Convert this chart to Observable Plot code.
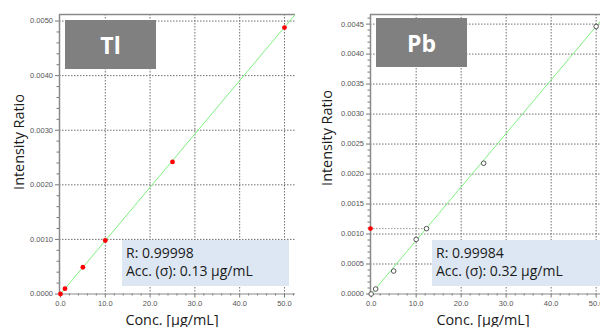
<!DOCTYPE html>
<html>
<head>
<meta charset="utf-8">
<script src="https://cdn.jsdelivr.net/npm/d3@7"></script>
<script src="https://cdn.jsdelivr.net/npm/@observablehq/plot@0.6"></script>
<style>
  html, body { margin: 0; padding: 0; background: #fff; }
  #wrap { position: relative; width: 600px; height: 327px; overflow: hidden; font-family: "Open Sans", sans-serif; }
  .panel { position: absolute; top: 0; }
  .panel svg { max-width: none !important; }
  .elem { position: absolute; background: #808080; color: #fff; font-weight: bold; font-size: 23px;
          display: flex; align-items: center; justify-content: center; font-family: "Open Sans", sans-serif; }
  .stats { position: absolute; background: #dde7f3; }
  .sline { position: absolute; color: #1a1a1a; font-size: 14px; line-height: 18px; height: 18px; white-space: nowrap; }
  .ytitle { position: absolute; font-size: 14.4px; color: #1a1a1a; white-space: nowrap;
            transform: translate(-50%, -50%) rotate(-90deg); }
  .xtitle { position: absolute; font-size: 14.4px; color: #1a1a1a; white-space: nowrap; transform: translate(-50%, -50%); }
</style>
</head>
<body>
<div id="wrap">
  <div id="left" class="panel" style="left:0px;width:300px"></div>
  <div id="right" class="panel" style="left:300px;width:312px"></div>
  <div class="elem" style="left:65px;top:20px;width:91px;height:49px;">Tl</div>
  <div class="elem" style="left:376px;top:18px;width:91px;height:49px;">Pb</div>
  <div class="stats" style="left:122px;top:240px;width:167px;height:46px;"></div>
  <div class="sline" style="left:126px;top:243.5px;">R: 0.99998</div>
  <div class="sline" style="left:126px;top:261.5px;">Acc. (σ): 0.13 µg/mL</div>
  <div class="stats" style="left:432px;top:240px;width:180px;height:46px;"></div>
  <div class="sline" style="left:436px;top:243.5px;">R: 0.99984</div>
  <div class="sline" style="left:436px;top:261.5px;">Acc. (σ): 0.32 µg/mL</div>
  <div class="ytitle" style="left:18px;top:142px;">Intensity Ratio</div>
  <div class="ytitle" style="left:326px;top:138px;">Intensity Ratio</div>
  <div class="xtitle" style="left:172px;top:319px;">Conc. [µg/mL]</div>
  <div class="xtitle" style="left:483px;top:319px;">Conc. [µg/mL]</div>
</div>
<script>
// ---- Data ----
const tlConc  = [0, 1, 5, 10, 25, 50];
const tlRatio = [0.0000, 0.000097, 0.00049, 0.00098, 0.00242, 0.00488];
const tlFitX  = [0, 53];
const tlFitY  = [0, 0.00518];

const pbConc  = [0, 1, 5, 10, 25, 50];
const pbRatio = [0.0000, 0.000083, 0.000383, 0.00091, 0.00218, 0.00446];
const pbFitX  = [0, 53];
const pbFitY  = [0, 0.00473];
const pbSampleConc  = [12.3];
const pbSampleRatio = [0.00109];

const xTicks   = [0, 10, 20, 30, 40, 50];
const tlYTicks = [0, 0.001, 0.002, 0.003, 0.004, 0.005];
const pbYTicks = [0, 0.0005, 0.001, 0.0015, 0.002, 0.0025, 0.003, 0.0035, 0.004, 0.0045];

const GRID = "#707070";
const FRAME = "#8a8a8a";
const GREEN = "#7ff07f";

function panel({xDomain, yDomain, width, marginLeft, marginRight, yTicks, yMinor, xMinor, marks}) {
  return Plot.plot({
    width, height: 327,
    marginLeft, marginRight, marginTop: 14, marginBottom: 33.5,
    style: {fontFamily: "'Liberation Sans', Arial, sans-serif", fontSize: "7.5px", color: "#555", background: "transparent", overflow: "visible", maxWidth: "none"},
    x: {domain: xDomain},
    y: {domain: yDomain},
    marks: [
      Plot.gridX(xTicks.filter(d => d > 0), {stroke: GRID, strokeOpacity: 1, strokeDasharray: "1.5,1.5"}),
      Plot.gridY(yTicks.filter(d => d > 0), {stroke: GRID, strokeOpacity: 1, strokeDasharray: "1.5,1.5"}),
      Plot.ruleX([xDomain[0]], {stroke: FRAME, strokeWidth: 1.5}),
      Plot.ruleY([yDomain[1]], {stroke: FRAME, strokeWidth: 1.5}),
      Plot.ruleY([yDomain[0]], {stroke: FRAME, strokeWidth: 1}),
      Plot.axisY(yTicks, {tickSize: 4, tickPadding: 2.5, tickFormat: d3.format(".4f"), label: null, stroke: "#777", fill: "#555"}),
      Plot.axisY(yMinor, {tickSize: 2.5, tickFormat: () => "", label: null, stroke: "#777"}),
      Plot.axisX(xTicks, {tickSize: 4, tickPadding: 3, tickFormat: d3.format(".1f"), label: null, stroke: "#777", fill: "#555"}),
      Plot.axisX(xMinor, {tickSize: 2, tickFormat: () => "", label: null, stroke: "#777"}),
      ...marks
    ]
  });
}

const tlLeft = panel({
  xDomain: [-0.22, 52.46], yDomain: [0, 0.00512], width: 300, marginLeft: 59, marginRight: 5,
  yTicks: tlYTicks,
  yMinor: d3.range(0.0002, 0.00512, 0.0002).filter(v => Math.abs(v / 0.001 - Math.round(v / 0.001)) > 1e-6),
  xMinor: d3.range(2, 52.4, 2).filter(v => v % 10 !== 0),
  marks: [
    Plot.line(tlFitX.map((x, i) => ({x, y: tlFitY[i]})), {x: "x", y: "y", stroke: GREEN, strokeWidth: 1, clip: true}),
    Plot.dot(tlConc.map((x, i) => ({x, y: tlRatio[i]})), {x: "x", y: "y", r: 2.4, fill: "#ff0000", stroke: "none"})
  ]
});
document.getElementById("left").append(tlLeft);

const pbRight = panel({
  xDomain: [-0.15, 52.3], yDomain: [0, 0.00466], width: 312, marginLeft: 70, marginRight: 6,
  yTicks: pbYTicks,
  yMinor: d3.range(0.0001, 0.00466, 0.0001).filter(v => Math.abs(v / 0.0005 - Math.round(v / 0.0005)) > 1e-6),
  xMinor: d3.range(2, 52.2, 2).filter(v => v % 10 !== 0),
  marks: [
    Plot.line(pbFitX.map((x, i) => ({x, y: pbFitY[i]})), {x: "x", y: "y", stroke: GREEN, strokeWidth: 1, clip: true}),
    Plot.ruleY(pbSampleRatio, {x1: -0.15, x2: pbSampleConc[0], stroke: "#999", strokeDasharray: "1.5,1.5"}),
    Plot.dot(pbConc.map((x, i) => ({x, y: pbRatio[i]})), {x: "x", y: "y", r: 2.3, fill: "white", stroke: "#555", strokeWidth: 1}),
    Plot.dot(pbSampleConc.map((x, i) => ({x, y: pbSampleRatio[i]})), {x: "x", y: "y", r: 2.3, fill: "white", stroke: "#555", strokeWidth: 1}),
    Plot.dot(pbSampleRatio.map(y => ({x: -0.15, y})), {x: "x", y: "y", r: 2.4, fill: "#ff0000", stroke: "none"})
  ]
});
document.getElementById("right").append(pbRight);
</script>
</body>
</html>
